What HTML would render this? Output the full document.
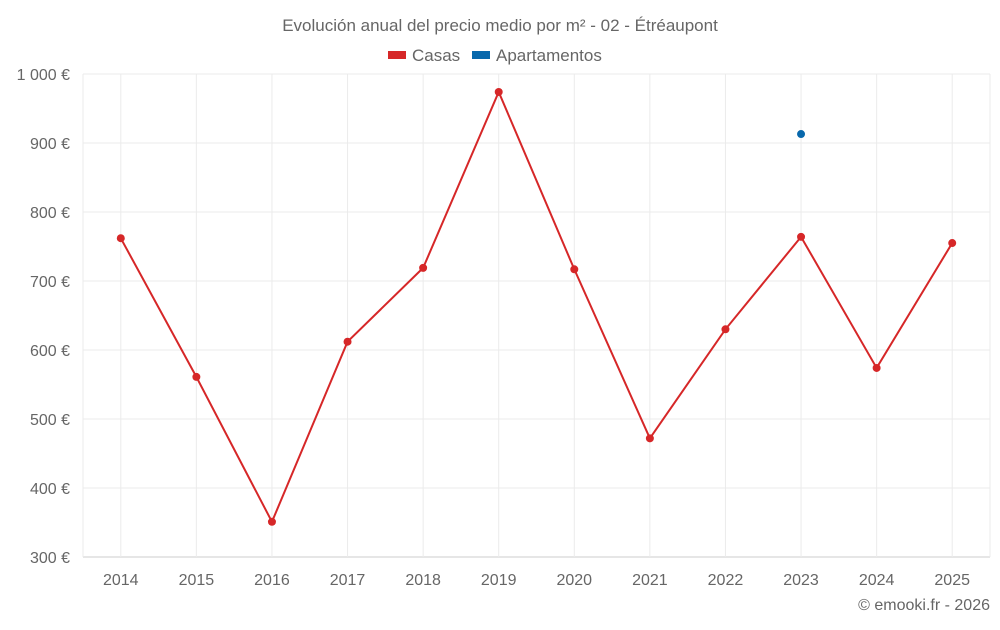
<!DOCTYPE html>
<html><head><meta charset="utf-8"><style>
body{margin:0;background:#fff;font-family:"Liberation Sans",Roboto,sans-serif;}
svg text{font-family:"Liberation Sans",sans-serif;fill:#666;}
</style></head><body>
<svg id="c" width="1000" height="625">
<text x="500" y="31" text-anchor="middle" font-size="17">Evolución anual del precio medio por m² - 02 - Étréaupont</text>
<g>
<g><rect x="388" y="51" width="18" height="8" fill="#d62728"/><text x="412" y="61" font-size="17">Casas</text></g>
<g><rect x="472" y="51" width="18" height="8" fill="#0868ac"/><text x="496" y="61" font-size="17">Apartamentos</text></g>
</g>
<g id="grid"></g><g id="axes"></g><g id="marks"></g>
<text x="990" y="610" text-anchor="end" font-size="16">© emooki.fr - 2026</text>
</svg>
<script>
const categories=["2014","2015","2016","2017","2018","2019","2020","2021","2022","2023","2024","2025"];
const casas=[762,561,351,612,719,974,717,472,630,764,574,755];
const apartamentos=[null,null,null,null,null,null,null,null,null,913,null,null];
const yTicks=[300,400,500,600,700,800,900,1000];
const L=83,R=990,T=74,B=557,ymin=300,ymax=1000;
const bw=(R-L)/categories.length;
const x=i=>L+bw*(i+0.5);
const y=v=>B-(v-ymin)/(ymax-ymin)*(B-T);
const NS="http://www.w3.org/2000/svg";
function mk(t,a,p){const e=document.createElementNS(NS,t);for(const k in a)e.setAttribute(k,a[k]);p.appendChild(e);return e;}
const g=document.getElementById('grid'),ax=document.getElementById('axes'),m=document.getElementById('marks');
yTicks.forEach(v=>{
 const l=mk('line',{x1:L,x2:R,y1:y(v),y2:y(v),stroke:v===300?'#ccc':'#ebebeb'},g);
 
 const t=mk('text',{x:70,y:y(v)+6,'text-anchor':'end','font-size':16},ax);
 t.textContent=(v>=1000?'1 000':v)+' €';
 
});
[L,R].forEach(px=>{
 const l=mk('line',{x1:px,x2:px,y1:T,y2:B,stroke:'#ebebeb'},g);
 
});
categories.forEach((c,i)=>{
 const l=mk('line',{x1:x(i),x2:x(i),y1:T,y2:B,stroke:'#ebebeb'},g);
 
 const t=mk('text',{x:x(i),y:585,'text-anchor':'middle','font-size':16},ax);t.textContent=c;
 
});
const pl=mk('polyline',{points:casas.map((v,i)=>x(i)+','+y(v)).join(' '),fill:'none',stroke:'#d62728','stroke-width':2},m);

casas.forEach((v,i)=>{const c=mk('circle',{cx:x(i),cy:y(v),r:4,fill:'#d62728'},m);
 });
apartamentos.forEach((v,i)=>{if(v==null)return;const c=mk('circle',{cx:x(i),cy:y(v),r:4,fill:'#0868ac'},m);
 });
</script>
</body></html>
